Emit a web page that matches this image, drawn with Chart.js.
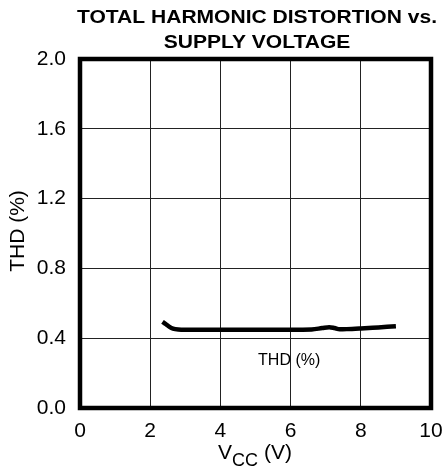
<!DOCTYPE html>
<html>
<head>
<meta charset="utf-8">
<script src="https://cdn.jsdelivr.net/npm/chart.js@4"></script>
<style>
  html, body { margin: 0; padding: 0; background: #fff; }
  #wrap { width: 448px; height: 469px; }
</style>
</head>
<body>
<div id="wrap"><canvas id="thdChart" width="448" height="469"></canvas></div>
<script>
const vccValues = [2.35, 2.45, 2.55, 2.65, 2.8, 3, 4, 5, 6, 6.6, 6.9, 7.1, 7.25, 7.4, 7.6, 8, 8.5, 9.0];
const thdValues = [0.494, 0.48, 0.465, 0.455, 0.45, 0.449, 0.449, 0.449, 0.449, 0.45, 0.458, 0.463, 0.458, 0.451, 0.452, 0.456, 0.462, 0.468];
const xTicks = [0, 2, 4, 6, 8, 10];
const yTicks = [0.0, 0.4, 0.8, 1.2, 1.6, 2.0];
const titleLines = ['TOTAL HARMONIC DISTORTION vs.', 'SUPPLY VOLTAGE'];

const FONT = 'Liberation Sans, Arial, sans-serif';

// draw a line of text centred at cx, stretched to a target width
function stretchedText(ctx, text, cx, y, targetW) {
  const w = ctx.measureText(text).width;
  const k = targetW / w;
  ctx.save();
  ctx.translate(cx, y);
  ctx.scale(k, 1);
  ctx.fillText(text, 0, 0);
  ctx.restore();
}

// frame, title, axis titles, in-plot label
const decorPlugin = {
  id: 'decor',
  afterDraw(chart) {
    const ctx = chart.ctx;
    const a = chart.chartArea;
    ctx.save();
    ctx.strokeStyle = '#000';
    ctx.lineWidth = 4.5;
    ctx.strokeRect(a.left, a.top, a.right - a.left, a.bottom - a.top);

    ctx.fillStyle = '#000';
    ctx.textAlign = 'center';
    ctx.textBaseline = 'alphabetic';
    ctx.font = 'bold 18px ' + FONT;
    const w0 = ctx.measureText(titleLines[0]).width;
    const k = 360 / w0;
    stretchedText(ctx, titleLines[0], 257, 23, 360);
    stretchedText(ctx, titleLines[1], 257, 48, ctx.measureText(titleLines[1]).width * k);

    // y axis title
    ctx.save();
    ctx.translate(18, 231);
    ctx.rotate(-Math.PI / 2);
    ctx.textBaseline = 'middle';
    ctx.font = '21px ' + FONT;
    ctx.fillText('THD (%)', 0, 0);
    ctx.restore();

    // x axis title: V_CC (V)
    const xs = chart.scales.x;
    const ys = chart.scales.y;
    ctx.textAlign = 'left';
    ctx.font = '21px ' + FONT;
    const w1 = ctx.measureText('V').width;
    ctx.font = '18px ' + FONT;
    const w2 = ctx.measureText('CC').width;
    ctx.font = '21px ' + FONT;
    const w3 = ctx.measureText(' (V)').width;
    let x0 = 255 - (w1 + w2 + w3) / 2;
    ctx.fillText('V', x0, 459);
    ctx.font = '18px ' + FONT;
    ctx.fillText('CC', x0 + w1, 466);
    ctx.font = '21px ' + FONT;
    ctx.fillText(' (V)', x0 + w1 + w2, 459);

    // series label inside plot
    ctx.textAlign = 'center';
    ctx.textBaseline = 'middle';
    ctx.font = '16px ' + FONT;
    ctx.fillText('THD (%)', xs.getPixelForValue(5.96), ys.getPixelForValue(0.27));
    ctx.restore();
  }
};

new Chart(document.getElementById('thdChart'), {
  type: 'line',
  data: {
    datasets: [{
      label: 'THD (%)',
      data: vccValues.map((v, i) => ({ x: v, y: thdValues[i] })),
      borderColor: '#000',
      borderWidth: 4.5,
      pointRadius: 0,
      tension: 0.4,
      cubicInterpolationMode: 'monotone',
      fill: false
    }]
  },
  options: {
    responsive: false,
    animation: false,
    layout: { padding: { left: 0, right: 17, top: 59, bottom: 0 } },
    plugins: {
      legend: { display: false },
      tooltip: { enabled: false },
      title: { display: false }
    },
    scales: {
      x: {
        type: 'linear',
        min: 0,
        max: 10,
        afterBuildTicks: s => { s.ticks = xTicks.map(v => ({ value: v })); },
        afterFit: s => { s.height = 61; s.paddingLeft = 0; s.paddingRight = 0; },
        grid: { color: '#222', lineWidth: 1, drawTicks: false },
        border: { display: false },
        ticks: {
          color: '#000',
          padding: 11,
          font: { family: FONT, size: 21 },
          maxRotation: 0,
          callback: v => String(v)
        }
      },
      y: {
        type: 'linear',
        min: 0,
        max: 2,
        afterBuildTicks: s => { s.ticks = yTicks.map(v => ({ value: v })); },
        afterFit: s => { s.width = 80; s.paddingTop = 0; s.paddingBottom = 0; },
        grid: { color: '#222', lineWidth: 1, drawTicks: false },
        border: { display: false },
        ticks: {
          color: '#000',
          padding: 14,
          font: { family: FONT, size: 21 },
          callback: v => v.toFixed(1)
        }
      }
    }
  },
  plugins: [decorPlugin]
});
</script>
</body>
</html>
